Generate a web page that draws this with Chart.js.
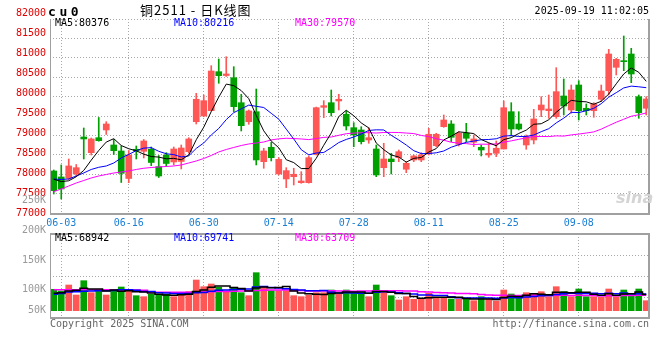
<!DOCTYPE html>
<html><head><meta charset="utf-8">
<script src="https://cdn.jsdelivr.net/npm/chart.js@4.4.1/dist/chart.umd.min.js"></script>
<style>
html,body{margin:0;padding:0;background:#fff;}
#wrap{position:relative;width:660px;height:360px;overflow:hidden;background:#fff;}
canvas{position:absolute;left:0;top:0;}
.t{position:absolute;font-family:'DejaVu Sans Mono',monospace;font-size:10px;line-height:12px;white-space:pre;}
</style></head><body>
<div id="wrap">
<canvas id="cp" width="660" height="360"></canvas>
<canvas id="cv" width="660" height="360"></canvas>
<div class="t" id="sym" style="left:48px;top:4px;font-weight:bold;font-size:13px;line-height:15px;letter-spacing:3.6px;color:#000"></div>
<div class="t" id="ttl" style="left:140px;top:2px;font-family:'Noto Sans CJK SC',sans-serif;font-size:13px;line-height:15px;letter-spacing:1px;color:#000"></div>
<div class="t" id="stamp" style="right:11px;top:5px;color:#000"></div>
<div class="t" id="pl0" style="left:55px;top:17px;color:#000"></div>
<div class="t" id="pl1" style="left:174px;top:17px;color:#0000ff"></div>
<div class="t" id="pl2" style="left:295px;top:17px;color:#ff00ff"></div>
<div class="t" id="vl0" style="left:55px;top:232px;color:#000"></div>
<div class="t" id="vl1" style="left:174px;top:232px;color:#0000ff"></div>
<div class="t" id="vl2" style="left:295px;top:232px;color:#ff00ff"></div>
<div class="t" id="copy" style="left:50px;top:318px;color:#666"></div>
<div class="t" id="url" style="right:11px;top:318px;color:#666"></div>
<div class="t" id="wm" style="left:616px;top:189px;font-family:'DejaVu Sans',sans-serif;font-style:italic;font-weight:bold;font-size:16px;line-height:18px;color:#d4d4d4"></div>
</div>
<script>
const symbol = 'cu0';
const titleText = '铜2511 - 日K线图';
const stampText = '2025-09-19 11:02:05';
const copyText = 'Copyright 2025 SINA.COM';
const urlText = 'http://finance.sina.com.cn';
const priceMaLegend = [80376, 80216, 79570];
const volMaLegend = [68942, 69741, 63709];

const dates = ['05-30','06-03','06-04','06-05','06-06','06-09','06-10','06-11','06-12','06-13',
'06-16','06-17','06-18','06-19','06-20','06-23','06-24','06-25','06-26','06-27',
'06-30','07-01','07-02','07-03','07-04','07-07','07-08','07-09','07-10','07-11',
'07-14','07-15','07-16','07-17','07-18','07-21','07-22','07-23','07-24','07-25',
'07-28','07-29','07-30','07-31','08-01','08-04','08-05','08-06','08-07','08-08',
'08-11','08-12','08-13','08-14','08-15','08-18','08-19','08-20','08-21','08-22',
'08-25','08-26','08-27','08-28','08-29','09-01','09-02','09-03','09-04','09-05',
'09-08','09-09','09-10','09-11','09-12','09-15','09-16','09-17','09-18','09-19'];
const dateTicks = ['06-03','06-16','06-30','07-14','07-28','08-11','08-25','09-08'];
const priceTicks = [82000,81500,81000,80500,80000,79500,79000,78500,78000,77500,77000];
const volTicks = [250000,200000,150000,100000,50000];

const opens = [78083,77929,77895,78006,78959,78555,78941,79140,78753,78598,
77890,78642,78590,78642,78194,78495,78315,78328,78580,79353,
79500,79637,80642,80544,80487,79843,79353,79611,78323,78694,
78006,77877,77936,77782,77782,78513,79724,79843,79887,79544,
79199,79140,78882,78650,78168,78392,78426,78127,78367,78367,
78521,78735,79225,79294,78771,79055,78823,78694,78495,78539,
78650,79611,79294,78753,78882,79655,79637,79482,80016,79655,
80299,79699,79637,79931,80152,80755,80925,81098,79998,79699];
const highs = [78109,78238,78392,78250,79191,78933,79462,79353,78900,78727,
78611,78727,78895,78701,78482,78555,78701,78753,78941,80085,
80040,80797,80969,81028,80771,80060,79655,80196,78668,78823,
78426,78168,78153,78065,78470,79730,79895,80170,80060,79629,
79328,79225,79199,78753,78797,78539,78624,78323,78495,78555,
79183,79055,79526,79380,79096,79312,79011,78753,78797,78856,
79887,79843,79611,79011,79672,79998,80041,80745,80454,80299,
80410,79810,79843,80299,81219,80987,81562,81245,80041,79998];
const lows = [77490,77362,77860,77942,78392,78495,78850,79024,78508,77787,
77782,78392,78418,78220,77915,78198,78238,78135,78540,79294,
79480,79630,80343,80520,79611,79114,79286,78238,78153,78341,
77980,77653,77722,77766,77770,78495,79456,79500,79655,79140,
78710,78779,78797,77936,77936,78006,78323,78039,78323,78323,
78495,78710,79209,78838,78727,78838,78710,78470,78436,78452,
78650,78985,79140,78642,78780,79482,79441,79441,79526,79570,
79397,79526,79467,79869,80041,80557,80668,80359,79441,79526];
const closes = [77575,77620,78212,78168,78908,78908,78864,79294,78606,78023,
78495,78598,78856,78302,77954,78276,78650,78676,78908,79931,
79895,80660,80539,80583,79740,79250,79629,78367,78598,78426,
78384,78091,77998,77825,78426,79714,79766,79585,79931,79243,
79011,78838,78941,77980,78392,78323,78580,78281,78470,78495,
79029,79029,79397,78951,79055,78926,78908,78624,78539,78668,
79714,79165,79165,78967,79423,79784,79681,80127,79758,80170,
79637,79637,79810,80145,81098,80961,80900,80583,79585,79939];

const ma5 = [77870,77810,77830,77935,78097,78363,78612,78828,78916,78739,
78656,78603,78516,78455,78441,78397,78408,78372,78493,78888,
79212,79614,79987,80322,80283,80154,79948,79514,79117,78854,
78681,78373,78299,78145,78145,78411,78746,79063,79484,79648,
79507,79322,79193,78803,78632,78495,78443,78311,78409,78430,
78571,78661,78884,78980,79092,79072,79047,78893,78810,78733,
78891,78942,79050,79136,79287,79301,79404,79596,79755,79904,
79875,79866,79802,79880,80066,80330,80583,80738,80626,80394];
const ma10 = [77877,77864,77877,77954,78032,78122,78178,78212,78289,78418,
78510,78608,78672,78685,78590,78527,78505,78444,78474,78665,
78805,79011,79179,79407,79586,79683,79781,79750,79719,79569,
79418,79161,78907,78631,78499,78546,78560,78681,78815,78896,
78959,79034,79128,79144,79140,79001,78882,78752,78606,78531,
78533,78552,78598,78695,78761,78821,78854,78888,78895,78913,
78981,78995,78972,78973,79010,79096,79173,79323,79445,79595,
79588,79635,79699,79817,79985,80102,80224,80270,80253,80230];
const ma30 = [77550,77619,77696,77774,77838,77903,77954,77993,78031,78057,
78083,78122,78153,78173,78186,78199,78212,78238,78289,78341,
78405,78483,78573,78637,78689,78740,78779,78804,78830,78884,
78911,78926,78919,78908,78892,78919,78949,78958,79003,79043,
79060,79068,79071,79061,79075,79077,79074,79061,79047,78999,
78970,78915,78877,78823,78800,78789,78765,78774,78772,78780,
78824,78860,78899,78937,78970,78973,78970,78988,78982,79013,
79034,79061,79090,79162,79252,79340,79417,79494,79531,79579];

const volumes = [89900,82700,107900,65900,126000,75600,82700,65900,86900,99500,
84000,63000,58800,68900,68900,68900,58800,68900,79800,128900,
100800,112100,98300,79800,98300,75600,63000,159600,98300,84000,
84000,84000,63000,58800,65900,75600,75600,86900,68900,86900,
75600,75600,58800,107900,84000,63000,44900,58800,47900,47900,
73100,56300,56300,49100,49100,47900,42000,58800,47900,40700,
86900,70100,52100,75600,70100,79800,58800,100800,79800,58800,
91100,58800,58800,56300,91100,58800,86900,63000,91100,42000];
const vma5 = [73000,75000,83000,86000,94500,91600,91600,83200,87400,82100,
83800,79900,78400,74800,68700,65700,64900,66900,69100,81100,
87400,98100,104000,104000,97900,92800,83000,95300,99000,96100,
97800,102000,82700,74800,71100,69500,67800,72600,74600,78800,
78800,78800,73200,81000,80400,77900,71700,71700,59700,52500,
54500,56800,56300,56500,56800,51700,48900,49400,49100,47500,
55300,60900,59500,65100,71000,69500,67300,77000,77900,75600,
77900,77900,69500,64800,71200,64800,70400,71200,78200,68400];
const vma10 = [69000,72000,78000,80000,82000,83000,84000,84000,85000,88300,
87700,85700,80800,81100,75400,74800,72400,72700,72000,74900,
76600,81500,85400,86500,89500,90100,90600,99600,101500,97000,
95300,92500,89000,86900,83600,83600,84900,77600,74700,75000,
74100,73300,72900,77800,79600,78300,75300,72400,70300,66400,
66200,64300,64000,58100,54600,53100,52800,52800,52800,52100,
53500,54900,54500,57100,59200,62400,64100,68300,71500,73300,
73700,72600,73200,71300,73400,71300,74100,70300,71500,69800];
const vma30 = [88000,88000,88000,88000,88000,88000,87500,87500,87000,87000,
86500,86500,86000,78000,77000,77000,77000,77000,77500,78000,
79000,80000,80500,81000,82000,83000,84000,85000,86000,86700,
86500,86600,85100,84800,82800,82800,82600,83300,82700,82300,
82000,82400,82400,83700,84200,84000,83600,83200,82200,79500,
78500,76700,75300,74300,72600,71700,71000,67600,66000,64500,
64600,64100,63800,64300,64500,64600,64100,64500,64900,63900,
64500,63900,63900,62200,62400,62300,63700,63800,65300,65100];

// ---------- text ----------
document.getElementById('sym').textContent = symbol;
document.getElementById('ttl').textContent = titleText;
document.getElementById('stamp').textContent = stampText;
['MA5','MA10','MA30'].forEach((n,i)=>{
  document.getElementById('pl'+i).textContent = n + ':' + priceMaLegend[i];
  document.getElementById('vl'+i).textContent = n + ':' + volMaLegend[i];
});
document.getElementById('copy').textContent = copyText;
document.getElementById('url').textContent = urlText;
document.getElementById('wm').textContent = 'sina';

// ---------- charts ----------
const UP = '#ff5656', DOWN = '#00a000';
const GRID = '#a8a8a8', FRAME = '#a0a0a0';
const DASH = [1, 2];
const FONT = {family: 'DejaVu Sans Mono', size: 10};
const colors = closes.map((c, i) => c >= opens[i] ? UP : DOWN);

Chart.defaults.font.family = 'DejaVu Sans Mono';

const framePlugin = {
  id: 'frame',
  afterDraw(chart, args, opts) {
    const {ctx, chartArea: a} = chart;
    const L = Math.round(a.left) + 0.5, R = Math.round(a.right) - 1;
    const B = Math.round(a.bottom) + (opts.bottomShift || 0);
    const T = Math.round(a.top);
    ctx.save();
    ctx.strokeStyle = FRAME;
    ctx.setLineDash([]);
    ctx.lineWidth = 1;
    ctx.beginPath(); ctx.moveTo(L, T); ctx.lineTo(L, B + 1); ctx.stroke();
    ctx.lineWidth = 2;
    ctx.beginPath();
    ctx.moveTo(L - 0.5, B); ctx.lineTo(R + 1, B);
    ctx.moveTo(R, B + 1); ctx.lineTo(R, T - (opts.top ? 1 : 0));
    if (opts.top) { ctx.moveTo(L - 0.5, T); ctx.lineTo(R + 1, T); }
    ctx.stroke();
    ctx.restore();
  }
};

function xScale(showLabels) {
  return {
    type: 'category',
    offset: true,
    grid: {display: true, offset: false, color: GRID, drawTicks: false},
    border: {display: false, dash: DASH},
    ticks: {display: showLabels, autoSkip: false, maxRotation: 0, padding: 4, color: '#1a7fd4', font: FONT},
    afterBuildTicks: s => { s.ticks = s.ticks.filter(t => dateTicks.includes(dates[t.value])); },
    afterFit: s => { s.height = showLabels ? 20 : 0; }
  };
}

const common = {
  responsive: false,
  animation: false,
  devicePixelRatio: 1,
  events: [],
  plugins: {legend: {display: false}, tooltip: {enabled: false}}
};

new Chart(document.getElementById('cp'), {
  type: 'bar',
  data: {
    labels: dates,
    datasets: [
      {type: 'line', data: ma5, borderColor: '#000000', borderWidth: 1, pointRadius: 0, tension: 0, order: 0},
      {type: 'line', data: ma10, borderColor: '#0000ff', borderWidth: 1, pointRadius: 0, tension: 0, order: 0},
      {type: 'line', data: ma30, borderColor: '#ff00ff', borderWidth: 1, pointRadius: 0, tension: 0, order: 0},
      {type: 'bar', data: opens.map((o, i) => [o, closes[i]]), backgroundColor: colors, barThickness: 6, minBarLength: 1, grouped: false, order: 1},
      {type: 'bar', data: lows.map((l, i) => [l, highs[i]]), backgroundColor: colors, barThickness: 1, grouped: false, order: 2}
    ]
  },
  options: Object.assign({}, common, {
    layout: {padding: {top: 19, right: 10, bottom: 127, left: 0}},
    plugins: Object.assign({}, common.plugins, {frame: {top: false, bottomShift: 1}}),
    scales: {
      x: xScale(true),
      y: {
        position: 'left', min: 77000, max: 82000, weight: 0,
        afterBuildTicks: s => { s.ticks = priceTicks.map(v => ({value: v})); },
        grid: {color: GRID, drawTicks: false},
        border: {display: false, dash: DASH},
        ticks: {display: false},
        afterFit: s => { s.width = 0; }
      },
      yLab: {
        position: 'left', min: 77007, max: 81857, weight: 1,
        afterBuildTicks: s => { s.ticks = priceTicks.map(v => ({value: v})); },
        grid: {display: false, drawTicks: false},
        border: {display: false},
        ticks: {color: '#e00000', padding: 4, font: FONT, autoSkip: false, callback: v => String(v)},
        afterFit: s => { s.width = 50; }
      }
    }
  }),
  plugins: [framePlugin]
});

const lastVolTick = volTicks.length - 1;
new Chart(document.getElementById('cv'), {
  type: 'bar',
  data: {
    labels: dates,
    datasets: [
      {type: 'line', data: vma5, yAxisID: 'yv', borderColor: '#000000', borderWidth: 1.5, pointRadius: 0, stepped: 'middle', order: 0},
      {type: 'line', data: vma10, yAxisID: 'yv', borderColor: '#0000ff', borderWidth: 1.5, pointRadius: 0, stepped: 'middle', order: 0},
      {type: 'line', data: vma30, yAxisID: 'yv', borderColor: '#ff00ff', borderWidth: 1.5, pointRadius: 0, stepped: 'middle', order: 0},
      {type: 'bar', data: volumes, yAxisID: 'yv', backgroundColor: colors, barThickness: 6, order: 1}
    ]
  },
  options: Object.assign({}, common, {
    layout: {padding: {top: 234, right: 10, bottom: 42, left: 0}},
    plugins: Object.assign({}, common.plugins, {frame: {top: true, bottomShift: 0}}),
    scales: {
      x: xScale(false),
      yv: {display: false, min: -30700, max: 322100},
      yg: {
        position: 'left', min: 0, max: 4, weight: 0,
        ticks: {display: false, stepSize: 1},
        grid: {color: GRID, drawTicks: false},
        border: {display: false, dash: DASH},
        afterFit: s => { s.width = 0; }
      },
      yl: {
        position: 'left', min: 52320, max: 194090, weight: 1,
        afterBuildTicks: s => { s.ticks = volTicks.map(v => ({value: v})); },
        grid: {display: false, drawTicks: false},
        border: {display: false},
        ticks: {
          color: '#999999', padding: 4, autoSkip: false,
          font: c => ({family: 'DejaVu Sans Mono', size: 10, lineHeight: c.index === lastVolTick ? 1.8 : 1.2}),
          callback: (v, i) => i === lastVolTick ? [(v / 1000) + 'K', ''] : (v / 1000) + 'K'
        },
        afterFit: s => { s.width = 50; }
      }
    }
  }),
  plugins: [framePlugin]
});
</script>
</body></html>
